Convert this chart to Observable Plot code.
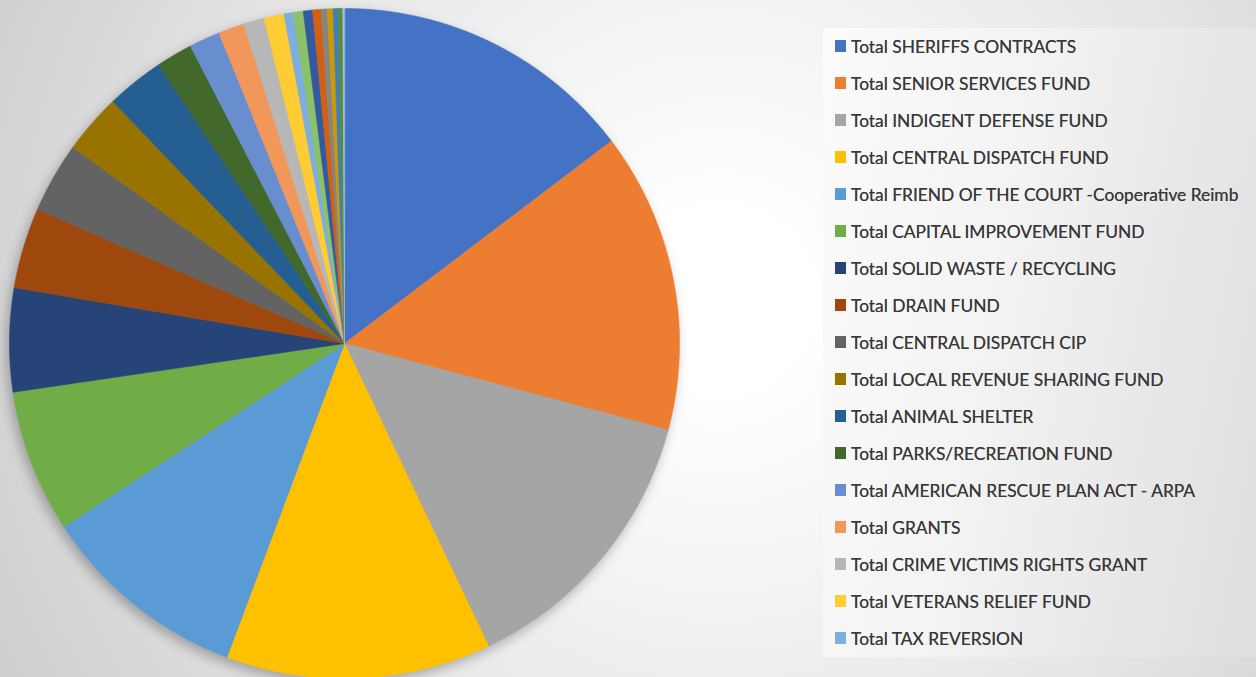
<!DOCTYPE html>
<html>
<head>
<meta charset="utf-8">
<script src="https://cdn.jsdelivr.net/npm/d3@7"></script>
<script src="https://cdn.jsdelivr.net/npm/@observablehq/plot@0.6"></script>
<style>
  html, body { margin: 0; padding: 0; }
  body {
    width: 1256px; height: 677px; overflow: hidden; position: relative;
    background: radial-gradient(circle at 720px 300px, #ffffff 0px, #ffffff 90px, #e8e8e8 480px, #cdcdcd 820px);
  }
  #chart { position: absolute; left: 0; top: 0; }
  #chart svg { filter: drop-shadow(-3px 5px 6px rgba(0,0,0,0.28)); }
  #legend {
    position: absolute; left: 823px; top: 28px; width: 433px; height: 629px;
    background: linear-gradient(100deg, #fbfbfb 0%, #f3f3f3 40%, #dedede 100%);
    font-family: Lato, "Liberation Sans", sans-serif; color: #383838;
  }
  .row { position: absolute; left: 0; height: 20px; display: flex; align-items: center; white-space: nowrap;
         text-shadow: 0 0 0.6px rgba(56,56,56,0.8); }
  .sw { width: 11px; height: 12px; margin-left: 12px; margin-right: 5px; flex: none; }
</style>
</head>
<body>
<div id="chart"></div>
<div id="legend"></div>
<script>
// Slice names (first 17 are shown in the legend; the rest are unlabeled small slices)
const names = [
  "Total SHERIFFS CONTRACTS",
  "Total SENIOR SERVICES FUND",
  "Total INDIGENT DEFENSE FUND",
  "Total CENTRAL DISPATCH FUND",
  "Total FRIEND OF THE COURT -Cooperative Reimb",
  "Total CAPITAL IMPROVEMENT FUND",
  "Total SOLID WASTE / RECYCLING",
  "Total DRAIN FUND",
  "Total CENTRAL DISPATCH CIP",
  "Total LOCAL REVENUE SHARING FUND",
  "Total ANIMAL SHELTER",
  "Total PARKS/RECREATION FUND",
  "Total AMERICAN RESCUE PLAN ACT - ARPA",
  "Total GRANTS",
  "Total CRIME VICTIMS RIGHTS GRANT",
  "Total VETERANS RELIEF FUND",
  "Total TAX REVERSION",
  "Slice 18", "Slice 19", "Slice 20", "Slice 21", "Slice 22", "Slice 23", "Slice 24", "Slice 25"
];
// Estimated shares (percent of total)
const values = [14.7, 14.5, 13.8, 12.8, 10.1, 6.9, 5.0, 3.9, 3.4, 2.9, 2.8, 1.75, 1.5, 1.25, 1.0, 0.97, 0.45,
                 0.48, 0.45, 0.4, 0.3, 0.28, 0.23, 0.23, 0.08];
const colors = ["#4472C4", "#ED7D31", "#A5A5A5", "#FFC000", "#5B9BD5", "#70AD47",
                "#264478", "#9E480E", "#636363", "#997300", "#255E91", "#43682B",
                "#698ED0", "#F1975A", "#B7B7B7", "#FFCD33", "#7CAFDD", "#8CC168",
                "#335AA1", "#D26012", "#848484", "#CC9A00", "#3C7DC4", "#5A8B39", "#9DC3E6"];
const legendCount = 17;

// Build slice polygons from the pie layout (clockwise from 12 o'clock)
const arcs = d3.pie().sort(null).startAngle(0).endAngle(2 * Math.PI)(values);
const pts = [];
arcs.forEach((a, i) => {
  const name = names[i];
  pts.push({name, x: 0, y: 0});
  const n = Math.max(2, Math.ceil((a.endAngle - a.startAngle) / 0.004));
  for (let k = 0; k <= n; k++) {
    const t = a.startAngle + (a.endAngle - a.startAngle) * k / n;
    pts.push({name, x: Math.sin(t), y: Math.cos(t)});
  }
});

const plot = Plot.plot({
  width: 1256,
  height: 677,
  x: {domain: [-1, 1], range: [9, 679], axis: null},
  y: {domain: [-1, 1], range: [678, 8], axis: null},
  color: {domain: names, range: colors},
  style: {background: "transparent", overflow: "visible"},
  marks: [
    Plot.line(pts, {x: "x", y: "y", z: "name", fill: "name", stroke: "name", strokeWidth: 0.6, curve: "linear-closed"})
  ]
});
document.getElementById("chart").appendChild(plot);

// Legend
const legend = document.getElementById("legend");
const ctx = document.createElement("canvas").getContext("2d");
ctx.font = "100px Lato";
const longest = d3.max(names.slice(0, legendCount), s => ctx.measureText(s).width);
const fontSize = 389 / longest * 100;
names.slice(0, legendCount).forEach((s, i) => {
  const row = document.createElement("div");
  row.className = "row";
  row.style.top = (46 - 28 + i * 37 - 10) + "px";
  row.style.fontSize = fontSize + "px";
  const sw = document.createElement("span");
  sw.className = "sw";
  sw.style.background = colors[i];
  const tx = document.createElement("span");
  tx.textContent = s;
  row.appendChild(sw); row.appendChild(tx);
  legend.appendChild(row);
});
</script>
</body>
</html>
